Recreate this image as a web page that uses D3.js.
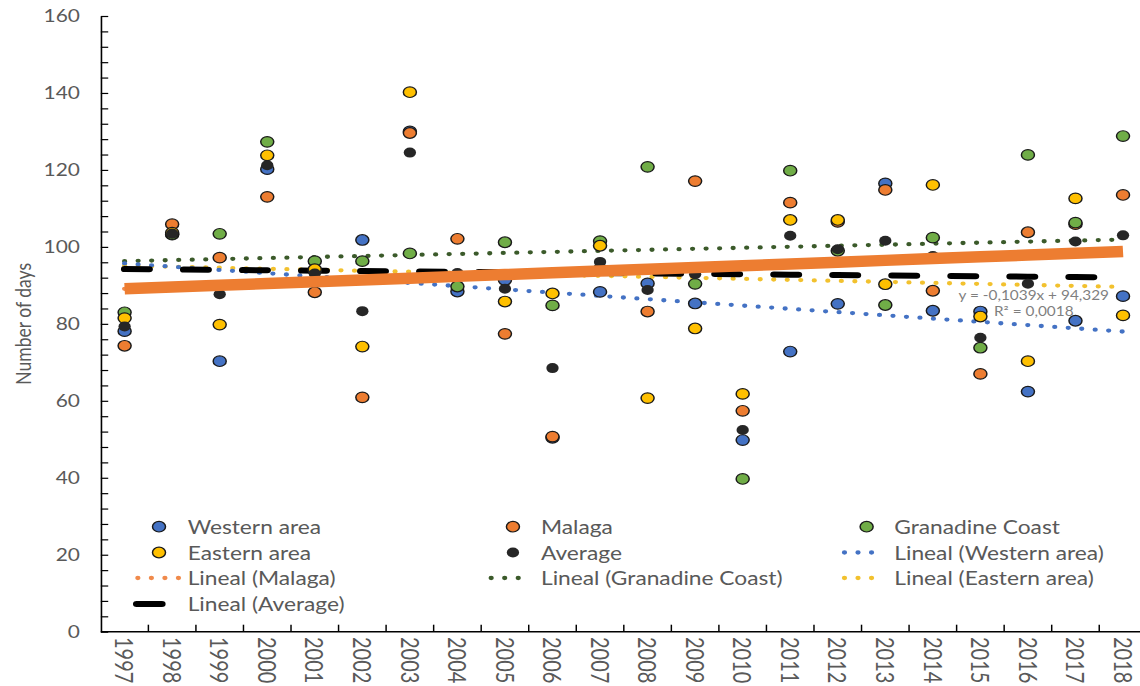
<!DOCTYPE html>
<html>
<head>
<meta charset="utf-8">
<script src="https://cdn.jsdelivr.net/npm/d3@7"></script>
<style>
  html, body { margin: 0; padding: 0; background: #ffffff; }
  svg { display: block; }
  text { font-family: Lato, "Open Sans", sans-serif; fill: #595959; }
</style>
</head>
<body>
<script>
// ---- data -------------------------------------------------------------
const years = ["1997","1998","1999","2000","2001","2002","2003","2004","2005","2006","2007",
               "2008","2009","2010","2011","2012","2013","2014","2015","2016","2017","2018"];

const western   = [78.1,103.2,70.3,120.2,93.8,101.8,130.0,88.4,91.4,50.4,88.3,
                   90.5,85.3,49.8,72.8,85.2,116.5,83.4,83.2,62.4,80.8,87.2];
const malaga    = [74.3,105.9,97.2,113.0,88.2,60.9,129.6,102.1,77.4,50.7,94.3,
                   83.2,117.1,57.4,111.5,106.5,114.8,88.6,67.0,103.8,105.9,113.5];
const granadine = [83.0,103.3,103.4,127.3,96.3,96.3,98.3,89.7,101.2,84.8,101.5,
                   120.8,90.4,39.7,119.8,99.0,84.9,102.4,73.8,123.9,106.3,128.8];
const eastern   = [81.5,103.7,79.8,123.8,94.2,74.1,140.2,92.5,85.8,87.9,100.3,
                   60.7,78.8,61.8,107.0,107.0,90.3,116.1,81.9,70.3,112.6,82.2];
const average   = [79.3,103.5,87.7,121.2,93.1,83.3,124.5,93.2,89.1,68.5,96.1,
                   88.8,92.9,52.4,102.9,99.4,101.6,97.6,76.4,90.4,101.4,103.0];

// linear trend coefficients (y = slope * n + intercept, n = 1 for 1997)
const trendWestern   = [-0.843, 96.54];
const trendMalaga    = [0.462, 88.64];
const trendGranadine = [0.267, 96.03];
const trendEastern   = [-0.262, 95.36];
const trendAverage   = [-0.1039, 94.329];
const r2Average      = 0.0018;

const yTicks = [0, 20, 40, 60, 80, 100, 120, 140, 160];

// ---- layout -----------------------------------------------------------
const VW = 927, VH = 686;          // drawing units, stretched to 1140 x 686
const left = 82, step = 38.66;
const svg = d3.select("body").append("svg")
  .attr("width", 1140).attr("height", 686)
  .attr("viewBox", `0 0 ${VW} ${VH}`)
  .attr("preserveAspectRatio", "none");

const x = d3.scaleBand().domain(years).range([left, left + step * years.length]).padding(0);
const y = d3.scaleLinear().domain([0, 160]).range([631.7, 16]);
const cx = d => x(d) + x.bandwidth() / 2;

const colors = {
  western: "#4472C4", malaga: "#ED7D31", granadine: "#70AD47",
  eastern: "#FFC000", average: "#262626",
  tWestern: "#4472C4", tMalaga: "#F08A4B", tGranadine: "#3B5A2A", tEastern: "#F2C12E"
};

// ---- axes -------------------------------------------------------------
// y labels
const yLab = svg.append("g").attr("transform", `translate(${left},0)`)
  .call(d3.axisLeft(y).tickValues(yTicks).tickSize(0).tickPadding(17));
yLab.select(".domain").remove();
yLab.selectAll("text").style("font-size", "17px").attr("fill", "#595959")
  .style("font-family", "Lato, 'Open Sans', sans-serif");

// y minor ticks pointing inward + axis line
const yTk = svg.append("g").attr("transform", `translate(${left},0)`)
  .call(d3.axisRight(y).tickValues(d3.range(0, 161, 4)).tickSize(6).tickSizeOuter(0).tickFormat(""));
yTk.selectAll("line").attr("stroke", "#000").attr("stroke-width", 1.2);
yTk.select(".domain").attr("stroke", "#000").attr("stroke-width", 1.3);

// x axis line and boundary ticks pointing up
const xg = svg.append("g");
xg.append("line")
  .attr("x1", left).attr("x2", VW + 10)
  .attr("y1", y(0)).attr("y2", y(0))
  .attr("stroke", "#000").attr("stroke-width", 1.5);
xg.selectAll(".xtick").data(years.slice(1)).join("line")
  .attr("x1", d => x(d)).attr("x2", d => x(d))
  .attr("y1", y(0)).attr("y2", y(0) - 7)
  .attr("stroke", "#000").attr("stroke-width", 1.2);
xg.selectAll(".xlab").data(years).join("text")
  .attr("transform", d => `translate(${cx(d)},637) rotate(90)`)
  .attr("dominant-baseline", "central")
  .attr("text-anchor", "start")
  .style("font-size", "20px")
  .text(d => d);

// y title
svg.append("text")
  .attr("transform", `translate(18.5,${(y(0) + y(160)) / 2}) rotate(-90)`)
  .attr("text-anchor", "middle").attr("dominant-baseline", "central")
  .style("font-size", "17.5px")
  .text("Number of days");

// ---- trend lines ------------------------------------------------------
const trendLine = coef => d3.line()
  .x((d, i) => cx(years[i]))
  .y((d, i) => y(coef[0] * (i + 1) + coef[1]));

function dotted(coef, color) {
  svg.append("path").datum(years)
    .attr("d", trendLine(coef))
    .attr("fill", "none").attr("stroke", color)
    .attr("stroke-width", 4.3).attr("stroke-linecap", "round")
    .attr("stroke-dasharray", "0 11");
}
dotted(trendGranadine, colors.tGranadine);
dotted(trendEastern, colors.tEastern);
dotted(trendWestern, colors.tWestern);
dotted(trendMalaga, colors.tMalaga);

svg.append("path").datum(years)
  .attr("d", trendLine(trendAverage))
  .attr("fill", "none").attr("stroke", "#000")
  .attr("stroke-width", 6).attr("stroke-linecap", "round")
  .attr("stroke-dasharray", "20 28");

// ---- markers ----------------------------------------------------------
const series = [
  { vals: western,   fill: colors.western },
  { vals: malaga,    fill: colors.malaga },
  { vals: granadine, fill: colors.granadine },
  { vals: eastern,   fill: colors.eastern },
];
series.forEach(s => {
  svg.append("g").selectAll("circle").data(s.vals).join("circle")
    .attr("cx", (d, i) => cx(years[i]))
    .attr("cy", d => y(d))
    .attr("r", 5.3)
    .attr("fill", s.fill)
    .attr("stroke", "#1a1a1a").attr("stroke-width", 1.2);
});
svg.append("g").selectAll("circle").data(average).join("circle")
  .attr("cx", (d, i) => cx(years[i]))
  .attr("cy", d => y(d))
  .attr("r", 5)
  .attr("fill", colors.average);

// Malaga trend highlighted as a heavy line on top
svg.append("path").datum(years)
  .attr("d", trendLine(trendMalaga))
  .attr("fill", "none").attr("stroke", colors.malaga)
  .attr("stroke-width", 11.5).attr("stroke-linecap", "butt");

// equation of the average trend
const fmt = (v, p) => v.toFixed(p).replace(".", ",");
const eq = svg.append("g").attr("transform", "translate(840.6,0)");
eq.append("text").attr("y", 295).attr("text-anchor", "middle").attr("dominant-baseline", "central")
  .style("font-size", "12.5px").style("fill", "#7f7f7f")
  .text(`y = ${fmt(trendAverage[0], 4)}x + ${fmt(trendAverage[1], 3)}`);
eq.append("text").attr("y", 311.5).attr("text-anchor", "middle").attr("dominant-baseline", "central")
  .style("font-size", "12.5px").style("fill", "#7f7f7f")
  .text(`R² = ${fmt(r2Average, 4)}`);

// ---- legend -----------------------------------------------------------
const colX = [{ m: 129.3, t: 152.6 }, { m: 417.1, t: 439.9 }, { m: 704.7, t: 727.2 }];
const rowY = [526.7, 552.5, 578, 604];
const legendItems = [
  { label: "Western area", kind: "marker", color: colors.western },
  { label: "Malaga", kind: "marker", color: colors.malaga },
  { label: "Granadine Coast", kind: "marker", color: colors.granadine },
  { label: "Eastern area", kind: "marker", color: colors.eastern },
  { label: "Average", kind: "avg", color: colors.average },
  { label: "Lineal (Western area)", kind: "dots", color: colors.tWestern },
  { label: "Lineal (Malaga)", kind: "dots", color: colors.tMalaga },
  { label: "Lineal (Granadine Coast)", kind: "dots", color: colors.tGranadine },
  { label: "Lineal (Eastern area)", kind: "dots", color: colors.tEastern },
  { label: "Lineal (Average)", kind: "dash", color: "#000" },
];
const lg = svg.append("g");
legendItems.forEach((it, k) => {
  const c = colX[k % 3], ry = rowY[Math.floor(k / 3)];
  const g = lg.append("g");
  if (it.kind === "marker") {
    g.append("circle").attr("cx", c.m).attr("cy", ry).attr("r", 5.3)
      .attr("fill", it.color).attr("stroke", "#1a1a1a").attr("stroke-width", 1.2);
  } else if (it.kind === "avg") {
    g.append("circle").attr("cx", c.m).attr("cy", ry).attr("r", 5).attr("fill", it.color);
  } else if (it.kind === "dots") {
    g.append("line").attr("x1", c.t - 40.5).attr("x2", c.t - 7.5)
      .attr("y1", ry).attr("y2", ry)
      .attr("stroke", it.color).attr("stroke-width", 4.3)
      .attr("stroke-linecap", "round").attr("stroke-dasharray", "0 11");
  } else {
    g.append("line").attr("x1", c.t - 41.5).attr("x2", c.t - 20.9)
      .attr("y1", ry).attr("y2", ry)
      .attr("stroke", it.color).attr("stroke-width", 6).attr("stroke-linecap", "round");
  }
  g.append("text").attr("x", c.t).attr("y", ry)
    .attr("dominant-baseline", "central")
    .style("font-size", "18.5px")
    .text(it.label);
});
</script>
</body>
</html>
